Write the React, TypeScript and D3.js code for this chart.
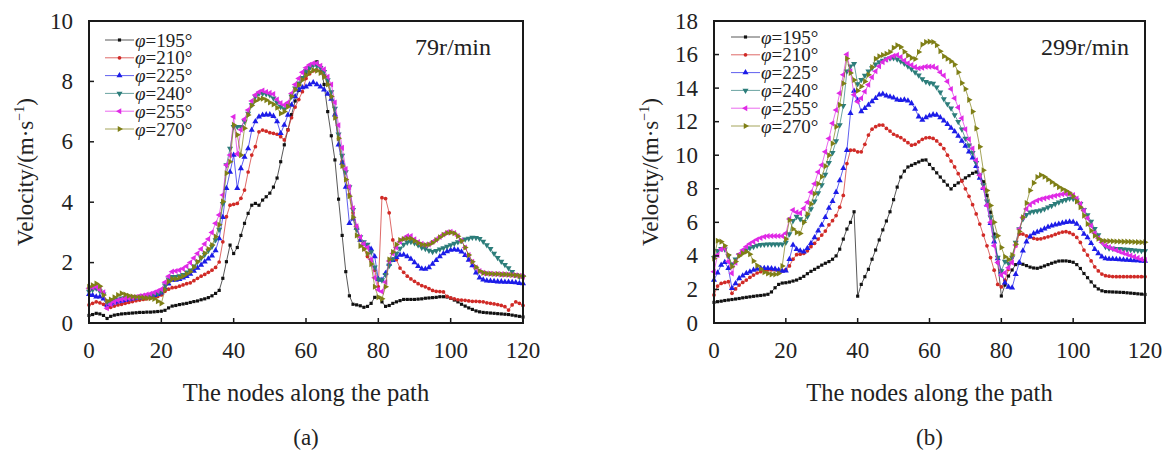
import React from "react";
import * as d3 from "d3";

// node index along the path (x axis)
const NODES = d3.range(0, 121);
const ANGLES = ["195", "210", "225", "240", "255", "270"];

// (a) 79 r/min
const A195 = [0.25,0.28,0.32,0.30,0.25,0.15,0.22,0.26,0.28,0.30,
  0.31,0.32,0.33,0.34,0.35,0.35,0.36,0.36,0.37,0.38,
  0.39,0.42,0.50,0.56,0.58,0.61,0.63,0.65,0.68,0.71,
  0.73,0.77,0.80,0.84,0.90,0.98,1.08,1.48,2.03,2.58,
  2.30,2.50,2.90,3.30,3.63,3.90,3.96,3.90,4.07,4.18,
  4.30,4.50,4.80,5.34,5.90,6.40,6.90,7.35,7.70,8.10,
  8.30,8.45,8.55,8.65,8.50,7.90,7.00,6.20,5.40,4.10,
  2.90,1.70,0.90,0.62,0.60,0.57,0.52,0.55,0.65,0.85,
  0.85,0.70,0.55,0.58,0.65,0.70,0.74,0.78,0.78,0.78,
  0.78,0.79,0.80,0.82,0.83,0.84,0.85,0.87,0.87,0.86,
  0.82,0.76,0.70,0.62,0.56,0.50,0.45,0.40,0.37,0.35,
  0.34,0.33,0.32,0.31,0.30,0.29,0.28,0.26,0.24,0.22,
  0.20];
const A210 = [0.60,0.65,0.70,0.67,0.62,0.49,0.52,0.56,0.60,0.62,
  0.65,0.68,0.71,0.74,0.76,0.78,0.80,0.83,0.85,0.88,
  0.93,1.05,1.12,1.17,1.18,1.22,1.26,1.30,1.33,1.40,
  1.48,1.55,1.61,1.68,1.75,1.84,2.02,2.69,3.52,3.90,
  3.93,3.96,4.13,4.40,5.00,5.56,5.84,6.33,6.39,6.35,
  6.30,6.28,6.25,6.17,6.06,6.39,6.80,7.15,7.40,7.66,
  8.10,8.25,8.35,8.38,8.34,8.20,8.00,7.50,6.90,6.10,
  5.35,4.75,4.25,3.65,3.20,2.75,2.45,2.20,2.05,1.75,
  1.20,4.15,4.12,3.65,2.75,2.10,1.82,1.68,1.55,1.46,
  1.38,1.30,1.24,1.20,1.14,1.08,1.05,1.04,1.03,0.88,
  0.83,0.80,0.77,0.76,0.75,0.73,0.72,0.72,0.71,0.70,
  0.67,0.65,0.63,0.61,0.58,0.54,0.43,0.60,0.70,0.65,
  0.58];
const A225 = [0.95,0.92,0.87,0.87,0.80,0.60,0.63,0.67,0.70,0.73,
  0.75,0.78,0.80,0.82,0.84,0.86,0.88,0.90,0.92,0.95,
  1.00,1.15,1.30,1.42,1.42,1.45,1.50,1.55,1.62,1.72,
  1.82,1.92,2.03,2.13,2.23,2.40,2.80,3.50,4.46,5.00,
  5.56,4.46,5.12,5.50,5.78,6.39,6.67,6.83,6.89,6.90,
  6.90,6.85,6.67,6.28,6.56,6.89,7.22,7.50,7.72,7.80,
  7.82,7.90,7.96,7.90,7.82,7.72,7.58,7.42,6.90,5.90,
  5.30,4.50,3.30,3.45,3.15,2.75,2.62,2.55,2.45,2.20,
  1.45,1.42,1.65,1.95,2.08,2.18,2.25,2.26,2.20,2.12,
  2.00,1.88,1.80,1.79,1.84,1.95,2.08,2.20,2.30,2.37,
  2.42,2.43,2.42,2.36,2.24,2.09,1.90,1.66,1.50,1.43,
  1.40,1.39,1.38,1.37,1.37,1.36,1.36,1.35,1.34,1.32,
  1.31];
const A240 = [1.04,1.10,1.15,1.05,0.95,0.68,0.72,0.76,0.79,0.82,
  0.83,0.84,0.85,0.86,0.87,0.89,0.91,0.93,0.96,0.98,
  1.04,1.25,1.45,1.53,1.53,1.56,1.60,1.68,1.75,1.88,
  2.03,2.15,2.27,2.40,2.53,2.75,3.10,3.95,5.23,5.78,
  6.50,6.50,6.50,6.67,6.94,7.22,7.50,7.60,7.60,7.58,
  7.55,7.44,7.30,7.16,7.09,7.22,7.50,7.77,7.94,8.12,
  8.35,8.45,8.54,8.52,8.45,8.32,8.05,7.65,7.10,6.25,
  5.55,5.00,4.50,3.75,3.10,2.85,2.68,2.60,2.35,1.85,
  1.45,1.42,1.60,1.90,2.12,2.30,2.47,2.60,2.67,2.69,
  2.65,2.58,2.50,2.46,2.40,2.36,2.39,2.44,2.48,2.53,
  2.58,2.63,2.68,2.72,2.77,2.80,2.83,2.82,2.79,2.70,
  2.58,2.46,2.30,2.16,2.04,1.93,1.82,1.70,1.60,1.53,
  1.52];
const A255 = [1.15,1.18,1.20,1.10,1.02,0.49,0.62,0.70,0.75,0.78,
  0.80,0.82,0.84,0.86,0.89,0.91,0.94,0.97,1.01,1.06,
  1.12,1.35,1.55,1.70,1.72,1.75,1.80,1.88,2.00,2.15,
  2.30,2.45,2.62,2.78,3.00,3.30,3.58,4.24,5.23,5.56,
  6.83,5.60,6.40,6.75,7.05,7.35,7.55,7.65,7.70,7.65,
  7.62,7.58,7.40,7.28,7.22,7.30,7.60,7.90,8.10,8.30,
  8.45,8.55,8.60,8.60,8.52,8.40,8.15,7.90,7.30,6.55,
  5.80,5.10,4.50,3.80,3.20,2.85,2.62,2.50,2.10,1.50,
  1.10,1.04,1.35,2.05,2.30,2.50,2.69,2.80,2.88,2.88,
  2.77,2.68,2.62,2.58,2.60,2.68,2.76,2.85,2.93,3.00,
  3.02,2.98,2.88,2.73,2.50,2.25,2.03,1.84,1.72,1.66,
  1.64,1.63,1.62,1.62,1.61,1.61,1.60,1.59,1.58,1.56,
  1.53];
const A270 = [1.20,1.25,1.31,1.22,0.93,0.73,0.78,0.85,0.93,0.98,
  0.94,0.90,0.88,0.86,0.85,0.84,0.83,0.82,0.80,0.72,
  0.65,1.10,1.37,1.46,1.46,1.50,1.55,1.62,1.70,1.85,
  2.03,2.17,2.31,2.45,2.58,2.86,3.25,4.02,4.96,5.34,
  6.56,6.23,5.56,6.45,6.89,7.20,7.35,7.42,7.43,7.38,
  7.30,7.24,7.13,6.94,7.00,7.16,7.50,7.72,7.88,8.05,
  8.20,8.30,8.38,8.35,8.28,8.15,7.90,7.50,6.80,6.12,
  5.20,4.75,4.20,3.50,2.90,2.55,2.45,2.30,1.95,1.20,
  0.85,0.80,1.20,2.10,2.35,2.60,2.75,2.78,2.80,2.80,
  2.72,2.65,2.60,2.58,2.60,2.66,2.75,2.84,2.92,2.98,
  3.00,2.97,2.87,2.72,2.50,2.25,2.03,1.85,1.72,1.66,
  1.64,1.63,1.62,1.62,1.61,1.61,1.60,1.59,1.58,1.56,
  1.55];

// (b) 299 r/min
const B195 = [1.23,1.27,1.30,1.34,1.37,1.40,1.43,1.46,1.50,1.53,
  1.56,1.59,1.62,1.64,1.67,1.71,1.85,2.10,2.30,2.38,
  2.40,2.44,2.50,2.56,2.66,2.78,2.94,3.08,3.20,3.32,
  3.45,3.56,3.66,3.80,4.00,4.40,5.00,5.60,6.00,6.63,
  1.60,2.30,2.76,3.20,3.80,4.35,4.95,5.55,6.08,6.63,
  7.35,8.10,8.70,9.05,9.30,9.40,9.50,9.60,9.70,9.72,
  9.45,9.20,8.95,8.70,8.45,8.22,7.99,8.20,8.35,8.50,
  8.65,8.78,8.92,9.00,8.70,8.42,7.60,6.60,5.30,3.60,
  1.61,2.26,2.80,3.16,3.48,3.56,3.50,3.42,3.33,3.28,
  3.26,3.32,3.40,3.48,3.56,3.63,3.69,3.70,3.70,3.67,
  3.62,3.48,3.25,2.95,2.70,2.45,2.20,2.03,1.92,1.87,
  1.86,1.85,1.84,1.83,1.82,1.80,1.78,1.76,1.74,1.72,
  1.70];
const B210 = [1.67,2.20,2.36,2.42,2.46,1.77,2.03,2.26,2.42,2.56,
  2.72,2.86,2.98,3.06,3.12,3.16,3.17,3.17,3.14,3.10,
  3.18,3.40,3.80,4.07,4.10,4.15,4.30,4.55,4.75,5.00,
  5.24,5.48,5.85,6.10,6.40,6.90,7.60,9.50,10.30,10.30,
  10.20,10.20,10.65,11.20,11.55,11.70,11.80,11.80,11.60,11.44,
  11.25,11.15,11.05,10.90,10.75,10.60,10.65,10.80,10.95,11.04,
  11.05,11.00,10.85,10.65,10.40,10.00,9.65,9.30,8.90,8.45,
  8.00,7.55,7.05,6.50,5.90,5.24,4.60,3.90,3.15,2.30,
  2.15,2.55,3.20,3.90,4.60,5.30,5.30,5.20,5.12,5.05,
  5.00,5.02,5.08,5.14,5.20,5.28,5.36,5.42,5.44,5.38,
  5.28,5.10,4.80,4.35,4.05,3.70,3.35,3.10,2.92,2.82,
  2.79,2.77,2.76,2.76,2.76,2.76,2.76,2.76,2.76,2.76,
  2.76];
const B225 = [2.56,3.00,3.45,3.62,3.26,2.07,2.36,2.66,2.82,2.96,
  3.06,3.16,3.22,3.26,3.27,3.26,3.25,3.22,3.16,3.10,
  3.12,3.80,4.65,4.40,4.30,4.25,4.45,4.75,5.10,5.50,
  5.84,6.30,6.85,7.25,7.80,8.50,9.22,10.30,12.50,13.83,
  13.29,12.60,12.80,13.00,13.20,13.39,13.60,13.65,13.55,13.49,
  13.42,13.30,13.28,13.30,13.25,13.09,12.75,12.30,12.10,12.25,
  12.35,12.42,12.40,12.25,12.05,11.85,11.62,11.42,11.15,10.85,
  10.55,10.20,9.85,9.35,8.65,8.03,7.05,5.95,4.85,3.85,
  3.05,2.40,2.15,2.10,2.90,3.60,4.30,4.85,5.15,5.34,
  5.42,5.52,5.62,5.72,5.80,5.85,5.90,5.96,6.00,6.04,
  6.02,5.90,5.65,5.30,5.10,4.75,4.40,4.15,3.95,3.84,
  3.82,3.81,3.80,3.79,3.77,3.75,3.74,3.73,3.72,3.70,
  3.69];
const B240 = [3.89,4.30,4.42,4.40,4.00,3.50,3.80,4.05,4.22,4.35,
  4.47,4.55,4.62,4.66,4.68,4.69,4.69,4.69,4.69,4.69,
  4.80,5.30,6.10,6.34,6.20,6.04,6.35,6.80,7.25,7.75,
  8.22,8.85,9.55,10.15,10.85,11.80,12.95,15.00,15.30,15.45,
  14.25,14.50,14.75,15.00,15.20,15.42,15.55,15.65,15.73,15.78,
  15.80,15.72,15.60,15.47,15.30,15.14,14.95,14.77,14.55,14.38,
  14.30,14.28,14.05,13.75,13.35,13.05,12.80,12.40,12.00,11.55,
  11.00,10.60,10.15,9.55,8.80,8.22,7.25,6.30,5.10,3.90,
  3.10,3.66,3.55,3.90,4.80,5.60,6.20,6.45,6.60,6.65,
  6.67,6.72,6.79,6.90,6.99,7.10,7.20,7.28,7.35,7.42,
  7.40,7.32,7.10,6.75,6.44,6.05,5.62,5.24,4.85,4.55,
  4.45,4.44,4.43,4.42,4.40,4.38,4.36,4.34,4.32,4.30,
  4.29];
const B255 = [3.06,4.05,4.40,4.45,3.66,2.96,3.60,4.10,4.35,4.55,
  4.72,4.85,4.98,5.07,5.14,5.18,5.19,5.19,5.19,5.19,
  5.35,6.20,6.73,6.60,6.55,6.83,7.20,7.80,8.30,9.00,
  9.42,10.20,11.00,11.90,12.70,13.70,14.80,16.01,15.00,13.60,
  13.19,13.40,13.80,14.20,14.65,15.00,15.30,15.55,15.70,15.82,
  15.92,15.97,15.85,15.65,15.48,15.38,15.25,15.18,15.22,15.28,
  15.28,15.28,15.20,14.95,14.75,14.40,13.95,13.40,12.85,12.20,
  11.55,10.95,10.40,9.70,8.80,8.03,7.00,6.00,4.60,3.60,
  2.85,3.00,3.30,3.60,4.65,5.60,6.30,6.80,7.05,7.20,
  7.30,7.38,7.43,7.48,7.53,7.58,7.63,7.67,7.69,7.68,
  7.62,7.42,7.10,6.70,6.24,5.80,5.35,5.05,4.80,4.62,
  4.52,4.42,4.34,4.25,4.17,4.10,4.02,3.95,3.88,3.80,
  3.75];
const B270 = [3.85,4.90,4.85,4.60,4.05,3.36,3.66,4.00,4.15,4.25,
  4.10,3.70,3.42,3.22,3.02,2.95,2.90,2.90,2.95,3.40,
  5.00,6.14,5.60,5.40,5.34,6.00,6.50,7.10,7.70,8.30,
  8.72,9.35,10.00,10.70,11.70,13.00,14.28,15.77,14.90,14.48,
  13.85,14.10,14.40,14.80,15.25,15.75,15.90,15.97,16.05,16.15,
  16.40,16.55,16.45,16.17,15.95,15.80,15.73,16.15,16.60,16.75,
  16.77,16.75,16.55,16.20,15.90,15.75,15.60,15.40,14.95,14.30,
  13.95,13.30,12.60,11.60,10.50,9.10,7.90,7.00,6.00,5.20,
  4.50,3.95,3.78,4.05,4.70,5.45,6.30,7.15,7.90,8.35,
  8.70,8.82,8.72,8.55,8.40,8.25,8.10,7.98,7.88,7.75,
  7.55,7.25,6.90,6.40,5.90,5.50,5.20,5.02,4.92,4.89,
  4.88,4.87,4.86,4.86,4.85,4.85,4.84,4.83,4.82,4.81,
  4.81];

const X_TICKS = [0, 20, 40, 60, 80, 100, 120];
const Y_TICKS_A = [0, 2, 4, 6, 8, 10];
const Y_TICKS_B = [0, 2, 4, 6, 8, 10, 12, 14, 16, 18];

const STYLES = [
  { color: "#111111", type: d3.symbolSquare, rot: 0, size: 10 },
  { color: "#d02a26", type: d3.symbolCircle, rot: 0, size: 11 },
  { color: "#1c1ce8", type: d3.symbolTriangle, rot: 0, size: 16 },
  { color: "#2c7d7a", type: d3.symbolTriangle, rot: 180, size: 16 },
  { color: "#e02ae6", type: d3.symbolTriangle, rot: -90, size: 16 },
  { color: "#7f7f16", type: d3.symbolTriangle, rot: 90, size: 16 },
];

const TOP = 21;
const BOTTOM = 323;

function Panel({ left, right, yTicks, series, speed, speedX, legendX, legendY, ylabelX, caption }) {
  const yMax = yTicks[yTicks.length - 1];
  const x = d3.scaleLinear().domain([0, 120]).range([left, right]);
  const y = d3.scaleLinear().domain([0, yMax]).range([BOTTOM, TOP]);
  const line = d3
    .line<number>()
    .x((_, i) => x(NODES[i]))
    .y((d) => y(d));
  const cx = (left + right) / 2;

  return (
    <g>
      {series.map((vals, s) => {
        const st = STYLES[s];
        const sym = d3.symbol().type(st.type).size(st.size)();
        return (
          <g key={s}>
            <path d={line(vals)} fill="none" stroke={st.color} strokeOpacity={0.7} strokeWidth={1} />
            {vals.map((v, i) => (
              <path
                key={i}
                d={sym}
                fill={st.color}
                transform={`translate(${x(NODES[i])},${y(v)}) rotate(${st.rot})`}
              />
            ))}
          </g>
        );
      })}

      <rect x={left} y={TOP} width={right - left} height={BOTTOM - TOP} fill="none" stroke="#1a1a1a" strokeWidth={2} />

      {X_TICKS.map((t) => (
        <g key={t}>
          <line x1={x(t)} x2={x(t)} y1={BOTTOM} y2={BOTTOM - 5} stroke="#1a1a1a" strokeWidth={1.5} />
          <text x={x(t)} y={358} textAnchor="middle" fontSize={23} fill="#222">{t}</text>
        </g>
      ))}
      {yTicks.map((t) => (
        <g key={t}>
          <line x1={left} x2={left + 5} y1={y(t)} y2={y(t)} stroke="#1a1a1a" strokeWidth={1.5} />
          <text x={left - 16} y={y(t) + 7.5} textAnchor="end" fontSize={23} fill="#222">{t}</text>
        </g>
      ))}

      <text
        transform={`translate(${ylabelX},${(TOP + BOTTOM) / 2}) rotate(-90)`}
        textAnchor="middle"
        fontSize={23}
        fill="#222"
      >
        Velocity/(m·s<tspan fontSize={14} dy={-9}>−1</tspan><tspan dy={9}>)</tspan>
      </text>
      <text x={cx} y={401} textAnchor="middle" fontSize={24.5} fill="#222">The nodes along the path</text>
      <text x={cx} y={445} textAnchor="middle" fontSize={23} fill="#222">{caption}</text>

      <text x={speedX} y={55} fontSize={24} fill="#222">{speed}</text>

      {ANGLES.map((a, s) => {
        const st = STYLES[s];
        const ly = legendY + s * 17.8;
        const sym = d3.symbol().type(st.type).size(st.size)();
        return (
          <g key={a}>
            <line x1={legendX} x2={legendX + 29} y1={ly} y2={ly} stroke={st.color} strokeOpacity={0.7} strokeWidth={1} />
            <path d={sym} fill={st.color} transform={`translate(${legendX + 14.5},${ly}) rotate(${st.rot})`} />
            <text x={legendX + 30} y={ly + 6.5} fontSize={19} fill="#222">
              <tspan fontStyle="italic">φ</tspan>={a}°
            </text>
          </g>
        );
      })}
    </g>
  );
}

export default function App() {
  return (
    <svg
      width={1171}
      height={451}
      style={{ position: "absolute", left: 0, top: 0, background: "#fff" }}
      fontFamily="'Liberation Serif', 'Times New Roman', serif"
    >
      <Panel
        left={89}
        right={523}
        yTicks={Y_TICKS_A}
        series={[A195, A210, A225, A240, A255, A270]}
        speed="79r/min"
        speedX={415}
        legendX={105}
        legendY={40}
        ylabelX={33}
        caption="(a)"
      />
      <Panel
        left={714}
        right={1145}
        yTicks={Y_TICKS_B}
        series={[B195, B210, B225, B240, B255, B270]}
        speed="299r/min"
        speedX={1041}
        legendX={731}
        legendY={37}
        ylabelX={658}
        caption="(b)"
      />
    </svg>
  );
}
